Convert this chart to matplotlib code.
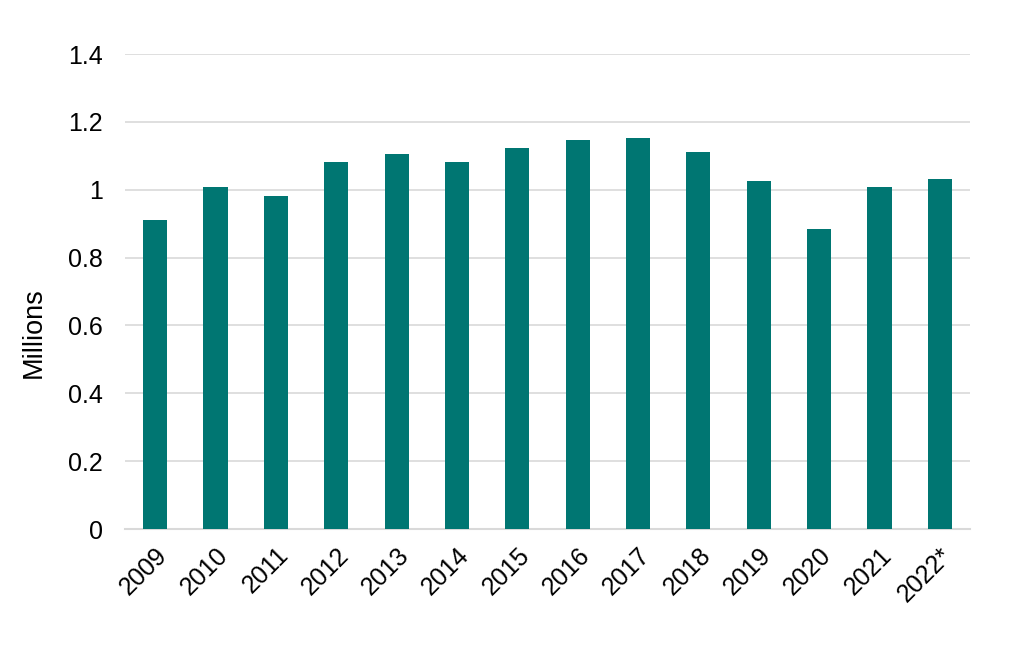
import matplotlib
matplotlib.use("Agg")
import matplotlib.pyplot as plt

years = ["2009", "2010", "2011", "2012", "2013", "2014", "2015", "2016",
         "2017", "2018", "2019", "2020", "2021", "2022*"]
values = [0.911, 1.008, 0.981, 1.082, 1.105, 1.082, 1.123, 1.146,
          1.152, 1.111, 1.026, 0.884, 1.008, 1.031]
yticks = [0, 0.2, 0.4, 0.6, 0.8, 1, 1.2, 1.4]
ytick_labels = ["0", "0.2", "0.4", "0.6", "0.8", "1", "1.2", "1.4"]

plt.rcParams['font.family'] = ['Liberation Sans', 'DejaVu Sans']

fig = plt.figure(figsize=(10.28, 6.66), dpi=100)
ax = fig.add_axes([0.1216, 0.2057, 0.8220, 0.7132])

x = range(len(years))
ax.bar(x, values, width=0.4, color="#007672", zorder=3)
ax.set_xlim(-0.5, len(years) - 0.5)
ax.set_ylim(0, 1.4)
ax.set_yticks(yticks)
ax.set_yticklabels(ytick_labels, fontsize=18)
ax.set_xticks(list(x))
ax.set_xticklabels(years, fontsize=18, rotation=45, ha="right", rotation_mode="anchor")
ax.grid(axis="y", color="#d9d9d9", linewidth=1.2, zorder=0)
for s in ["top", "right", "left"]:
    ax.spines[s].set_visible(False)
ax.spines["bottom"].set_color("#d9d9d9")
ax.spines["bottom"].set_linewidth(1.5)
ax.tick_params(axis="y", length=0, pad=16)
ax.tick_params(axis="x", length=0, pad=10)
ax.set_ylabel("Millions", fontsize=19.5)
ax.yaxis.set_label_coords(-0.0923, 0.413)

fig.savefig("out.png", dpi=100)
